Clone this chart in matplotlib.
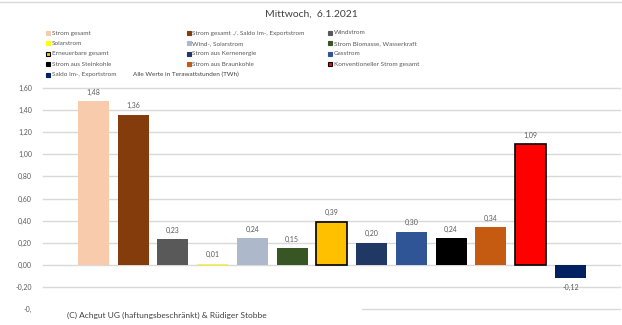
import matplotlib.pyplot as plt
from matplotlib.patches import Rectangle
from matplotlib.lines import Line2D

plt.rcParams['font.family'] = ['Lato', 'DejaVu Sans']

# data
labels = ['Strom gesamt', 'Strom gesamt ./. Saldo Im-, Exportstrom', 'Windstrom',
          'Solarstrom', 'Wind-, Solarstrom', 'Strom Biomasse, Wasserkraft',
          'Erneuerbare gesamt', 'Strom aus Kernenergie', 'Gasstrom',
          'Strom aus Steinkohle', 'Strom aus Braunkohle', 'Konventioneller Strom gesamt',
          'Saldo Im-, Exportstrom']
values = [1.48, 1.36, 0.23, 0.01, 0.24, 0.15, 0.39, 0.20, 0.30, 0.24, 0.34, 1.09, -0.12]
colors = ['#F8CBAD', '#843C0C', '#595959', '#FFFF00', '#ADB9CA', '#375623',
          '#FFC000', '#203864', '#2F5597', '#000000', '#C55A11', '#FF0000', '#002060']
outlined = ['Erneuerbare gesamt', 'Konventioneller Strom gesamt']
yticks = [-0.4, -0.2, 0.0, 0.2, 0.4, 0.6, 0.8, 1.0, 1.2, 1.4, 1.6]

W, H = 622, 325
fig = plt.figure(figsize=(W / 100, H / 100), dpi=100)
ax = fig.add_axes([43 / W, 1 - 309 / H, (620 - 43) / W, (309 - 88) / H])

grid_c = '#D9D9D9'
txt_c = '#595959'

# gridlines
for t in yticks:
    if t == -0.4:
        ax.axhline(t, xmin=(362 - 43) / (620 - 43), color=grid_c, lw=1, zorder=0, clip_on=False)
    else:
        ax.axhline(t, color=grid_c, lw=1, zorder=0, clip_on=False)

# bars
for i, (lab, v, c) in enumerate(zip(labels, values, colors)):
    edge = 'black' if lab in outlined else 'none'
    lw = 1.2 if lab in outlined else 0
    ax.bar(i, v, width=0.78, color=c, edgecolor=edge, linewidth=lw, zorder=2)
    txt = f'{v:.2f}'.replace('.', ',')
    if v >= 0:
        ax.annotate(txt, (i, v), xytext=(0, 4), textcoords='offset points',
                    ha='center', va='bottom', fontsize=5, color=txt_c)
    else:
        ax.annotate(txt, (i, v), xytext=(0, -4), textcoords='offset points',
                    ha='center', va='top', fontsize=5, color=txt_c)

ax.set_xlim(-1.27, 13.25)
ax.set_ylim(-0.4, 1.6)
ax.set_yticks(yticks)
ax.set_yticklabels(['-0,'] + [f'{t:.2f}'.replace('.', ',') for t in yticks[1:]])
ax.tick_params(axis='y', length=0, labelsize=5, labelcolor=txt_c, pad=8)
ax.set_xticks([])
for s in ax.spines.values():
    s.set_visible(False)

# title
fig.text(0.5, 1 - 14 / H, 'Mittwoch,  6.1.2021', ha='center', va='center',
         fontsize=7.5, color='#404040')

# legend, row-wise like Excel
for k, (lab, c) in enumerate(zip(labels, colors)):
    row, col = k // 3, k % 3
    x = 48 + col * 141
    y = 33 + row * 10.4
    edge = 'black' if lab in outlined else c
    fig.add_artist(Rectangle(((x - 2) / W, 1 - (y + 2) / H), 4 / W, 4 / H,
                             facecolor=c, edgecolor=edge, lw=0.8,
                             transform=fig.transFigure))
    fig.text((x + 3.5) / W, 1 - y / H, lab, ha='left', va='center',
             fontsize=4.6, color=txt_c)
fig.text(133 / W, 1 - (33 + 4 * 10.4) / H, 'Alle Werte in Terawattstunden (TWh)',
         ha='left', va='center', fontsize=4.6, color='#404040')

# footnote
fig.text(67 / W, 1 - 315 / H, '(C) Achgut UG (haftungsbeschränkt) & Rüdiger Stobbe',
         ha='left', va='center', fontsize=6, color='#404040')

# top border
fig.add_artist(Line2D([0, 1], [1 - 1.5 / H, 1 - 1.5 / H], color=grid_c, lw=1,
                      transform=fig.transFigure))

fig.savefig('out.png', dpi=100)
